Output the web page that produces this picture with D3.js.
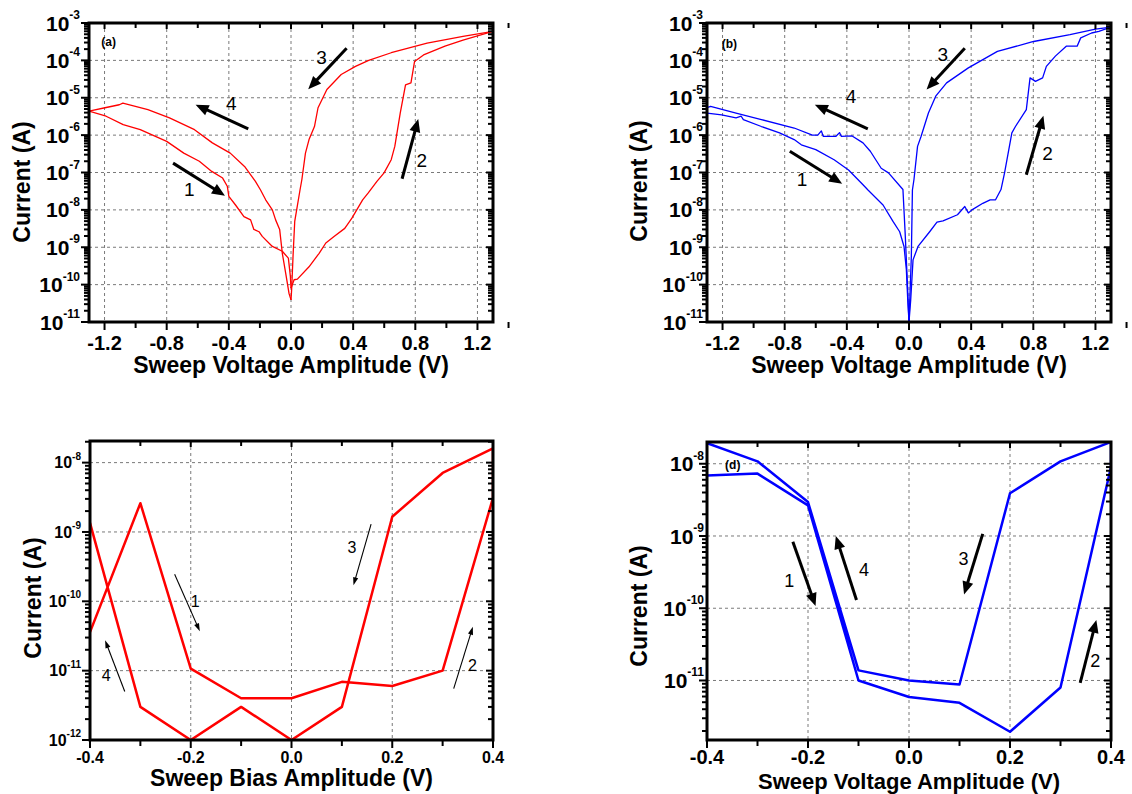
<!DOCTYPE html>
<html lang="en">
<head>
<meta charset="UTF-8">
<title>I-V sweeps</title>
<script src="https://d3js.org/d3.v7.min.js"></script>
<style>
  body { margin: 0; background: #fff; }
  text { font-family: "Liberation Sans", Arial, sans-serif; }
</style>
</head>
<body>
<svg width="1132" height="794"></svg>
<script>
// ---- data: [voltage (V), current (A)] ----
// panel (a), four sweep branches
const sweepA1 = [[-1.30,4.4e-6],[-1.19,3.2e-6],[-1.08,1.9e-6],[-0.97,1.4e-6],[-0.80,6.8e-7],[-0.69,3.3e-7],
  [-0.59,2.0e-7],[-0.51,1.07e-7],[-0.44,7.1e-8],[-0.41,4.3e-8],[-0.40,2.3e-8],[-0.357,1.35e-8],[-0.303,6.6e-9],
  [-0.26,5.4e-9],[-0.239,3.0e-9],[-0.206,2.6e-9],[-0.185,1.95e-9],[-0.12,1.05e-9],[-0.056,7.8e-10],
  [-0.017,5.1e-10],[-0.004,1.66e-10],[0,8e-11]];
const sweepA2 = [[0,8e-11],[0.02,1.35e-10],[0.041,1.4e-10],[0.116,3.0e-10],[0.181,6.9e-10],[0.224,1.3e-9],
  [0.277,1.95e-9],[0.346,3.2e-9],[0.392,6.0e-9],[0.461,1.86e-8],[0.496,2.8e-8],[0.553,5.8e-8],[0.599,9.8e-8],
  [0.645,2.2e-7],[0.668,5.0e-7],[0.703,3.9e-6],[0.737,2.2e-5],[0.772,2.5e-5],[0.795,9.3e-5],[0.853,1.4e-4],
  [0.991,2.4e-4],[1.107,3.5e-4],[1.30,6.0e-4]];
const sweepA3 = [[1.30,6.0e-4],[1.107,4.4e-4],[0.876,2.9e-4],[0.645,1.6e-4],[0.50,1.0e-4],[0.415,6.9e-5],[0.323,4.2e-5],
  [0.231,1.66e-5],[0.174,5.4e-6],[0.151,1.7e-6],[0.116,7.6e-7],[0.093,3.3e-7],[0.070,6.5e-8],[0.058,3.4e-8],
  [0.024,4.9e-9],[0.013,5.6e-10],[0.004,7.2e-11],[0,3.9e-11]];
const sweepA4 = [[0,3.9e-11],[-0.013,5.9e-11],[-0.034,2.0e-10],[-0.056,6.9e-10],[-0.073,3.0e-9],[-0.099,5.4e-9],
  [-0.12,1e-8],[-0.163,1.86e-8],[-0.196,3.4e-8],[-0.229,5.8e-8],[-0.299,1.45e-7],[-0.391,3.3e-7],[-0.506,6.2e-7],
  [-0.621,1.4e-6],[-0.782,2.9e-6],[-0.921,4.8e-6],[-1.082,7.2e-6],[-1.105,6.5e-6],[-1.197,5.4e-6],[-1.30,4.4e-6]];

// panel (b), four sweep branches
const sweepB1 = [[-1.30,3.9e-6],[-1.206,3.5e-6],[-1.113,2.9e-6],[-1.08,3.2e-6],[-1.066,2.6e-6],[-0.95,1.7e-6],
  [-0.833,1.15e-6],[-0.739,7.6e-7],[-0.693,5.5e-7],[-0.60,4.1e-7],[-0.482,2.2e-7],[-0.389,1.17e-7],[-0.296,4.7e-8],
  [-0.264,3.4e-8],[-0.167,1.35e-8],[-0.103,4.9e-9],[-0.06,2.6e-9],[-0.032,1.05e-9],[-0.017,2.5e-10],
  [-0.008,3.9e-11],[0,1e-11]];
const sweepB2 = [[0,1e-11],[0.011,3.9e-11],[0.026,4.6e-10],[0.058,1.05e-9],[0.133,2.6e-9],[0.18,4.7e-9],
  [0.219,5.1e-9],[0.312,7.4e-9],[0.359,1.23e-8],[0.382,8.3e-9],[0.405,1e-8],[0.475,1.5e-8],[0.522,1.86e-8],
  [0.557,1.86e-8],[0.592,3.5e-8],[0.615,9.8e-8],[0.662,1.15e-6],[0.685,1.7e-6],[0.755,4.8e-6],[0.779,3.4e-5],
  [0.814,2.75e-5],[0.86,3.4e-5],[0.884,6.9e-5],[0.942,1.3e-4],[1.012,2.4e-4],[1.082,2.4e-4],[1.105,4.0e-4],
  [1.175,5.4e-4],[1.222,6.0e-4],[1.30,7.8e-4]];
const sweepB3 = [[1.30,7.8e-4],[1.2,6.9e-4],[1.036,4.9e-4],[0.802,3.2e-4],[0.569,1.74e-4],[0.382,6.3e-5],
  [0.242,2.5e-5],[0.172,1.1e-5],[0.125,3.9e-6],[0.078,9.3e-7],[0.055,5.0e-7],[0.032,6.5e-8],[0.022,3.4e-8],
  [0.015,5.6e-10],[0,1e-11]];
const sweepB4 = [[0,1e-11],[-0.012,1.6e-10],[-0.025,2.5e-9],[-0.039,3.5e-8],[-0.132,9.8e-8],[-0.179,1.3e-7],
  [-0.249,3.7e-7],[-0.296,6.2e-7],[-0.366,9.5e-7],[-0.436,9.3e-7],[-0.447,1.17e-6],[-0.47,9.3e-7],[-0.552,9.3e-7],
  [-0.564,1.3e-6],[-0.587,1.0e-6],[-0.622,1.0e-6],[-0.739,1.55e-6],[-0.95,2.6e-6],[-1.113,3.9e-6],
  [-1.277,5.9e-6],[-1.30,5.4e-6]];

// panels (c) and (d): bias steps and currents, forward and return sweeps
const biasSteps = [-0.4, -0.3, -0.2, -0.1, 0.0, 0.1, 0.2, 0.3, 0.4];
const currentCForward = [3.6e-11, 2.6e-9, 1.07e-11, 4e-12, 4e-12, 6.9e-12, 6e-12, 1e-11, 3.1e-9];
const currentCReturn  = [1.35e-9, 3e-12, 1e-12, 3e-12, 1e-12, 3e-12, 1.66e-9, 7.1e-9, 1.6e-8];
const currentDForward = [6.9e-9, 7.3e-9, 2.65e-9, 1e-11, 5.9e-12, 4.9e-12, 1.95e-12, 8e-12, 9e-9];
const currentDReturn  = [1.93e-8, 1.08e-8, 2.95e-9, 1.38e-11, 1e-11, 8.8e-12, 3.9e-9, 1.08e-8, 2e-8];

// tick labels
const xTicksWide = [-1.2, -0.8, -0.4, 0.0, 0.4, 0.8, 1.2];
const xTicksNarrow = [-0.4, -0.2, 0.0, 0.2, 0.4];
const expA = [-3, -4, -5, -6, -7, -8, -9, -10, -11];
const expC = [-8, -9, -10, -11, -12];
const expD = [-8, -9, -10, -11];

// arrows: [fromV, fromI, toV, toI, label, labelV, labelI]
const arrowsA = [[-0.759,1.78e-7,-0.425,2.4e-8,"1",-0.655,3.5e-8],[0.715,6.8e-8,0.819,2.7e-6,"2",0.842,2.2e-7],
  [0.358,2.1e-4,0.111,1.7e-5,"3",0.197,1.23e-4],[-0.275,1.48e-6,-0.614,6.5e-6,"4",-0.384,7.2e-6]];
const arrowsB = [[-0.767,3.7e-7,-0.43,5e-8,"1",-0.688,6.5e-8],[0.755,8.7e-8,0.865,3.3e-6,"2",0.891,3.2e-7],
  [0.359,2.1e-4,0.113,1.66e-5,"3",0.218,1.5e-4],[-0.265,1.48e-6,-0.606,6.5e-6,"4",-0.373,1.1e-5]];
const arrowsC = [[-0.232,2.45e-10,-0.182,3.7e-11,"1",-0.191,1e-10],[0.322,5.5e-12,0.36,4.3e-11,"2",0.359,1.2e-11],
  [0.158,1.3e-9,0.123,1.7e-10,"3",0.12,6e-10],[-0.331,5e-12,-0.37,2.75e-11,"4",-0.368,8.7e-12]];
const arrowsD = [[-0.230,8.3e-10,-0.185,1.07e-10,"1",-0.237,2.4e-10],[0.339,9.3e-12,0.371,6.9e-11,"2",0.369,1.9e-11],
  [0.146,1.07e-9,0.109,1.55e-10,"3",0.108,4.9e-10],[-0.104,1.3e-10,-0.145,1e-9,"4",-0.089,3.4e-10]];

const svg = d3.select("svg");

function pairs(v, cur) { return v.map((d, i) => [d, cur[i]]); }

function drawPanel(p) {
  const x = d3.scaleLinear().domain(p.xDomain).range([p.left, p.right]);
  const y = d3.scaleLog().domain(p.yDomain).range([p.bottom, p.top]);
  const g = svg.append("g");

  // grid
  const decades = p.exps.map(e => Math.pow(10, e));
  g.selectAll(".gx").data(p.xTicks.filter(v => v > p.xDomain[0] && v < p.xDomain[1])).enter().append("line")
    .attr("x1", d => x(d)).attr("x2", d => x(d)).attr("y1", p.top).attr("y2", p.bottom)
    .attr("stroke", "#7a7a7a").attr("stroke-width", 1).attr("stroke-dasharray", "3,3");
  g.selectAll(".gy").data(decades.filter(v => y(v) > p.top + 1 && y(v) < p.bottom - 1)).enter().append("line")
    .attr("y1", d => y(d)).attr("y2", d => y(d)).attr("x1", p.left).attr("x2", p.right)
    .attr("stroke", "#7a7a7a").attr("stroke-width", 1).attr("stroke-dasharray", "3,3");

  // clip and curves
  const clipId = "clip" + p.id;
  svg.append("clipPath").attr("id", clipId).append("rect")
    .attr("x", p.left).attr("y", p.top).attr("width", p.right - p.left).attr("height", p.bottom - p.top);
  const line = d3.line().x(d => x(d[0])).y(d => y(Math.max(d[1], p.yDomain[0])));
  g.append("g").attr("clip-path", "url(#" + clipId + ")")
    .selectAll("path").data(p.curves).enter().append("path")
    .attr("d", line).attr("fill", "none").attr("stroke", p.color)
    .attr("stroke-width", p.lineWidth).attr("stroke-linejoin", "round");

  // ticks: outward on bottom/left, inward on top/right
  const minorX = d3.range(Math.round(p.xDomain[0] / p.xMinorStep), Math.round(p.xDomain[1] / p.xMinorStep) + 1)
    .map(k => +(k * p.xMinorStep).toFixed(3)).filter(v => p.xTicks.indexOf(v) < 0);
  const minorY = [];
  d3.range(-13, -2).forEach(e => d3.range(2, 10).forEach(k => {
    const v = k * Math.pow(10, e);
    if (v > p.yDomain[0] && v < p.yDomain[1]) minorY.push(v);
  }));
  const segs = [];
  p.xTicks.forEach(v => { segs.push([x(v), p.bottom, x(v), p.bottom + 8]); segs.push([x(v), p.top, x(v), p.top + 6]); });
  minorX.forEach(v => { segs.push([x(v), p.bottom, x(v), p.bottom + 6]); segs.push([x(v), p.top, x(v), p.top + 5]); });
  decades.forEach(v => { segs.push([p.left - 8, y(v), p.left, y(v)]); segs.push([p.right, y(v), p.right - 7, y(v)]); });
  minorY.forEach(v => { segs.push([p.left - 5, y(v), p.left, y(v)]); segs.push([p.right, y(v), p.right - 5, y(v)]); });
  g.append("g").selectAll("line").data(segs).enter().append("line")
    .attr("x1", d => d[0]).attr("y1", d => d[1]).attr("x2", d => d[2]).attr("y2", d => d[3])
    .attr("stroke", "#000").attr("stroke-width", 2);

  // frame
  g.append("rect").attr("x", p.left).attr("y", p.top)
    .attr("width", p.right - p.left).attr("height", p.bottom - p.top)
    .attr("fill", "none").attr("stroke", "#000").attr("stroke-width", 3);

  // x tick labels
  g.selectAll(".xl").data(p.xTicks).enter().append("text")
    .attr("x", d => x(d)).attr("y", p.bottom + p.xLabelOffset)
    .attr("text-anchor", "middle").attr("font-weight", "bold").attr("font-size", p.xTickSize)
    .text(d => d.toFixed(1));

  // y tick labels 10^n
  const yl = g.selectAll(".yl").data(p.exps).enter().append("text")
    .attr("x", p.left - p.yLabelGap).attr("y", d => y(Math.pow(10, d)) + p.yTickSize * 0.36)
    .attr("text-anchor", "end").attr("font-weight", "bold").attr("font-size", p.yTickSize);
  yl.append("tspan").text("10");
  yl.append("tspan").attr("dy", -p.yTickSize * 0.55).attr("font-size", p.expSize).text(d => d);

  // axis titles
  g.append("text").attr("x", (p.left + p.right) / 2).attr("y", p.bottom + p.xTitleOffset)
    .attr("text-anchor", "middle").attr("font-weight", "bold").attr("font-size", p.titleSize).text(p.xTitle);
  g.append("text").attr("transform", "translate(" + p.yTitleX + "," + p.yTitleY + ") rotate(-90)")
    .attr("text-anchor", "middle").attr("font-weight", "bold").attr("font-size", 23).text("Current (A)");

  // arrows
  p.arrows.forEach(a => {
    const x0 = x(a[0]), y0 = y(a[1]), x1 = x(a[2]), y1 = y(a[3]);
    const len = Math.hypot(x1 - x0, y1 - y0), ux = (x1 - x0) / len, uy = (y1 - y0) / len;
    const bx = x1 - ux * p.headLen, by = y1 - uy * p.headLen;
    g.append("line").attr("x1", x0).attr("y1", y0).attr("x2", bx + ux).attr("y2", by + uy)
      .attr("stroke", "#000").attr("stroke-width", p.arrowWidth);
    g.append("path").attr("fill", "#000")
      .attr("d", "M" + x1 + "," + y1 + "L" + (bx - uy * p.headHalf) + "," + (by + ux * p.headHalf) +
        "L" + (bx + uy * p.headHalf) + "," + (by - ux * p.headHalf) + "Z");
    g.append("text").attr("x", x(a[5])).attr("y", y(a[6])).attr("dy", "0.36em")
      .attr("text-anchor", "middle").attr("font-size", p.arrowFont).text(a[4]);
  });

  if (p.tag) {
    g.append("text").attr("x", x(p.tag[1])).attr("y", y(p.tag[2])).attr("dy", "0.36em")
      .attr("text-anchor", "middle").attr("font-weight", "bold").attr("font-size", 12).text(p.tag[0]);
  }
}

const wide = { xDomain: [-1.3, 1.3], yDomain: [1e-11, 1e-3], xTicks: xTicksWide, xMinorStep: 0.2,
  exps: expA, lineWidth: 1.3, xTickSize: 20, yTickSize: 21, expSize: 12, xLabelOffset: 28, xTitleOffset: 51,
  titleSize: 23, xTitle: "Sweep Voltage Amplitude (V)", arrowWidth: 3, headLen: 13, headHalf: 5.5, arrowFont: 19 };

drawPanel(Object.assign({}, wide, { id: "a", left: 89, right: 493, top: 23, bottom: 322, color: "#ff0000",
  curves: [sweepA1, sweepA2, sweepA3, sweepA4], arrows: arrowsA, yLabelGap: 9, yTitleX: 30, yTitleY: 182,
  tag: ["(a)", -1.174, 3.1e-4] }));

drawPanel(Object.assign({}, wide, { id: "b", left: 707, right: 1111, top: 23, bottom: 322, color: "#0000ff",
  curves: [sweepB1, sweepB2, sweepB3, sweepB4], arrows: arrowsB, yLabelGap: 4, yTitleX: 647, yTitleY: 181,
  tag: ["(b)", -1.156, 2.75e-4] }));

drawPanel({ id: "c", left: 90, right: 493, top: 441, bottom: 740, xDomain: [-0.4, 0.4], yDomain: [1e-12, 2.05e-8],
  xTicks: xTicksNarrow, xMinorStep: 0.1, exps: expC, color: "#ff0000", lineWidth: 2.5,
  curves: [pairs(biasSteps, currentCForward).concat(pairs(biasSteps, currentCReturn).reverse())],
  xTickSize: 16, yTickSize: 16, expSize: 10, xLabelOffset: 23, xTitleOffset: 46, yLabelGap: 9, titleSize: 23,
  xTitle: "Sweep Bias Amplitude (V)", yTitleX: 41, yTitleY: 598,
  arrows: arrowsC, arrowWidth: 1.1, headLen: 8, headHalf: 2.6, arrowFont: 16 });

drawPanel({ id: "d", left: 707, right: 1111, top: 442, bottom: 740, xDomain: [-0.4, 0.4], yDomain: [1.5e-12, 2e-8],
  xTicks: xTicksNarrow, xMinorStep: 0.1, exps: expD, color: "#0000ff", lineWidth: 2.5,
  curves: [pairs(biasSteps, currentDForward).concat(pairs(biasSteps, currentDReturn).reverse())],
  xTickSize: 20, yTickSize: 21, expSize: 12, xLabelOffset: 24, xTitleOffset: 49, yLabelGap: 3, titleSize: 22,
  xTitle: "Sweep Voltage Amplitude (V)", yTitleX: 647, yTitleY: 606,
  arrows: arrowsD, arrowWidth: 3, headLen: 13, headHalf: 5.5, arrowFont: 18,
  tag: ["(d)", -0.349, 9.8e-9] });
</script>
</body>
</html>
